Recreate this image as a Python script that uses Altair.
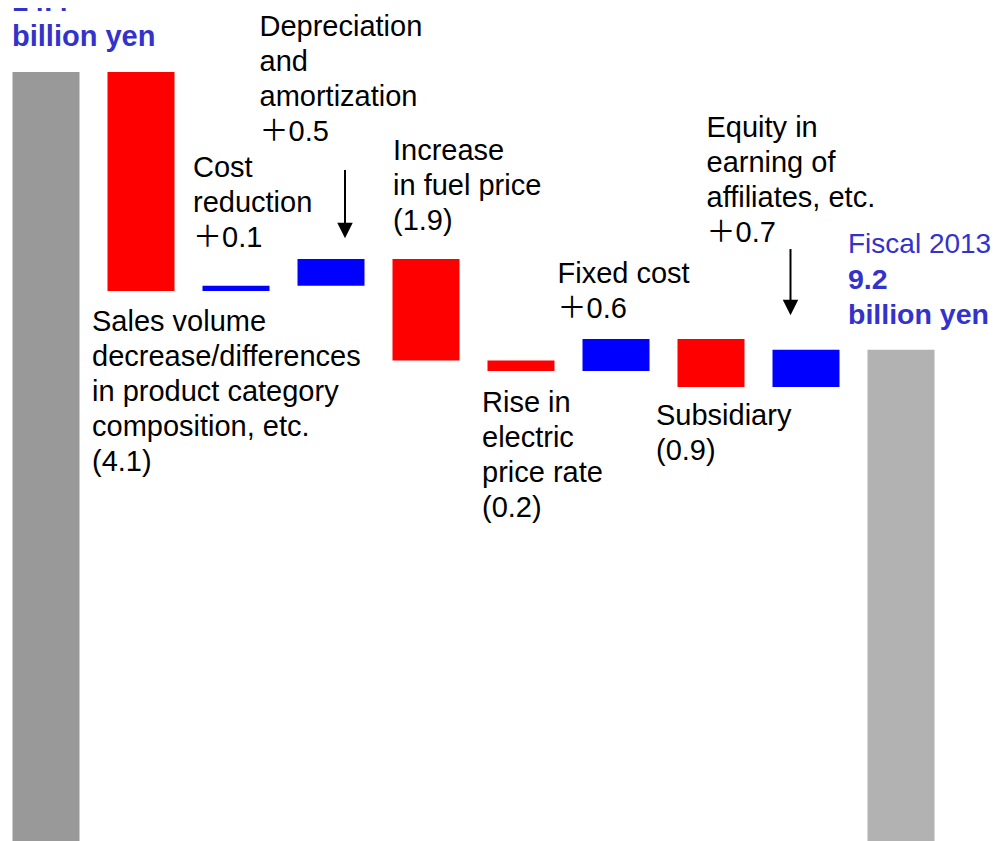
import altair as alt
import pandas as pd

# ---- data ----
categories = ["Fiscal 2012", "Sales volume", "Cost reduction", "Depreciation",
              "Fuel price", "Electric price", "Fixed cost", "Subsidiary",
              "Equity", "Fiscal 2013"]
amounts = [14.4, -4.1, 0.1, 0.5, -1.9, -0.2, 0.6, -0.9, 0.7, 9.2]
is_total = [True, False, False, False, False, False, False, False, False, True]
labels = [
    "14.4\nbillion yen",
    "Sales volume\ndecrease/differences\nin product category\ncomposition, etc.\n(4.1)",
    "Cost\nreduction\n＋0.1",
    "Depreciation\nand\namortization\n＋0.5",
    "Increase\nin fuel price\n(1.9)",
    "Rise in\nelectric\nprice rate\n(0.2)",
    "Fixed cost\n＋0.6",
    "Subsidiary\n(0.9)",
    "Equity in\nearning of\naffiliates, etc.\n＋0.7",
    "9.2\nbillion yen",
]
end_title = "Fiscal 2013"

# ---- build waterfall table ----
rows = []
running = 0.0
for i, (c, a, t, lab) in enumerate(zip(categories, amounts, is_total, labels)):
    if t:
        start, end = 0.0, a
        kind = "first" if i == 0 else "last"
        running = a
    else:
        start, end = running, running + a
        running = end
        kind = "up" if a > 0 else "down"
    rows.append(dict(cat=c, start=round(start, 2), end=round(end, 2),
                     lo=round(min(start, end), 2), hi=round(max(start, end), 2),
                     kind=kind, label=lab, title=end_title if i == len(categories) - 1 else ""))
df = pd.DataFrame(rows)

BLUE_TXT = "#3333CC"
FONT = "Liberation Sans, Arial, Noto Sans CJK JP, sans-serif"

x_enc = alt.X("cat:N", sort=categories, axis=None,
              scale=alt.Scale(paddingInner=0.2947, paddingOuter=0.0474))
y_scale = alt.Scale(domain=[0, 15.6], nice=False, zero=False)

base = alt.Chart(df)

bars = base.mark_bar().encode(
    x=x_enc,
    y=alt.Y("start:Q", scale=y_scale, axis=None),
    y2="end:Q",
    color=alt.Color("kind:N", legend=None,
                    scale=alt.Scale(domain=["first", "down", "up", "last"],
                                    range=["#999999", "#FF0000", "#0000FF", "#B2B2B2"])),
)

# label placement: (category index, anchor field, dx, dy, weight, color, text field, size)
label_specs = [
    (0, "hi", -34, -61, "bold", BLUE_TXT, "label", 29),
    (1, "lo", -49, 40, "normal", "black", "label", 29),
    (2, "hi", -43, -109, "normal", "black", "label", 29),
    (3, "hi", -71.5, -223, "normal", "black", "label", 29),
    (4, "hi", -33, -99, "normal", "black", "label", 29),
    (5, "lo", -39, 41, "normal", "black", "label", 29),
    (6, "hi", -58.5, -56, "normal", "black", "label", 29),
    (7, "lo", -55, 38, "normal", "black", "label", 29),
    (8, "hi", -99.5, -213, "normal", "black", "label", 29),
    (9, "hi", -53, -61, "bold", BLUE_TXT, "label", 28.5),
    (9, "hi", -53, -97, "normal", BLUE_TXT, "title", 28),
]

layers = [bars]
for idx, fld, dx, dy, weight, col, tf, fs in label_specs:
    layers.append(
        base.transform_filter(alt.datum.cat == categories[idx]).mark_text(
            align="left", baseline="alphabetic", dx=dx, dy=dy, font=FONT,
            fontSize=fs, lineHeight=35, lineBreak="\n", fontWeight=weight, color=col,
        ).encode(x=x_enc, y=alt.Y(f"{fld}:Q", scale=y_scale, axis=None), text=f"{tf}:N")
    )

# arrows: (category index, x offset, shaft top offset, shaft bottom offset, head offset)
arrow_specs = [
    (3, 14, -89, -31, -28.5),
    (8, -15.5, -100.7, -41.7, -42.2),
]
for idx, xo, y1o, y2o, ho in arrow_specs:
    sub = base.transform_filter(alt.datum.cat == categories[idx])
    layers.append(
        sub.mark_rule(color="black", strokeWidth=2, xOffset=xo, yOffset=y1o, y2Offset=y2o).encode(
            x=x_enc, y=alt.Y("hi:Q", scale=y_scale, axis=None), y2="hi:Q")
    )
    layers.append(
        sub.mark_point(shape="M-1,-1L1,-1L0,1Z", filled=True, color="black", opacity=1,
                       size=240, xOffset=xo, yOffset=ho).encode(
            x=x_enc, y=alt.Y("hi:Q", scale=y_scale, axis=None))
    )

chart = alt.layer(*layers).properties(
    width=931, height=833,
    background="white",
    autosize=alt.AutoSizeParams(type="none"),
    padding={"left": 0, "top": 0, "right": 53, "bottom": 0},
).configure_view(strokeWidth=0, stroke="transparent")

chart.save("out.html", embed_options={"renderer": "svg", "actions": False})
